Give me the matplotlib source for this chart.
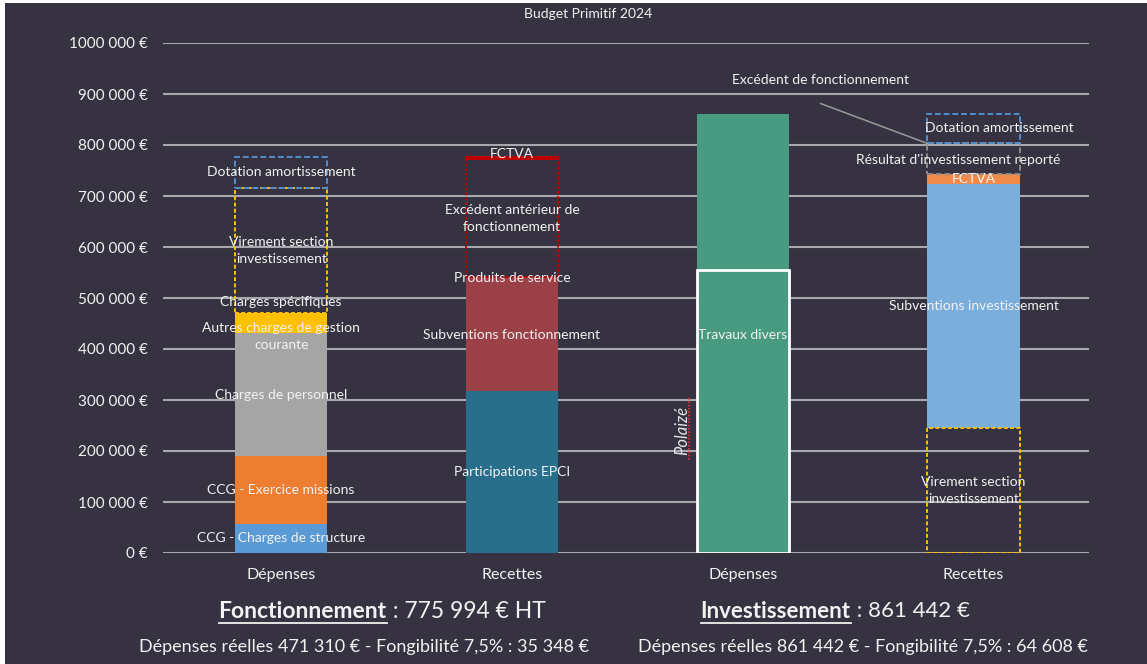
import matplotlib
matplotlib.use("Agg")
import matplotlib.pyplot as plt
import matplotlib.transforms as mtransforms
from matplotlib.patches import Rectangle
from matplotlib.lines import Line2D

# ---------------- data ----------------
title = "Budget Primitif 2024"
categories = ["Dépenses", "Recettes", "Dépenses", "Recettes"]
ytick_values = [0, 100000, 200000, 300000, 400000, 500000, 600000, 700000, 800000, 900000, 1000000]
ytick_labels = ["0 €", "100 000 €", "200 000 €", "300 000 €", "400 000 €", "500 000 €",
                "600 000 €", "700 000 €", "800 000 €", "900 000 €", "1000 000 €"]

fonct_dep_labels = ["CCG - Charges de structure", "CCG - Exercice missions", "Charges de personnel",
                    "Autres charges de gestion\ncourante", "Charges spécifiques",
                    "Virement section\ninvestissement", "Dotation amortissement"]
fonct_dep_values = [57000, 133000, 241000, 37000, 3310, 245000, 59684]

fonct_rec_labels = ["Participations EPCI", "Subventions fonctionnement", "Produits de service",
                    "Excédent antérieur de\nfonctionnement", "FCTVA"]
fonct_rec_values = [318000, 220000, 3000, 232000, 2994]

inv_dep_labels = ["Travaux divers", ""]
inv_dep_values = [555000, 306442]

inv_rec_labels = ["Virement section\ninvestissement", "Subventions investissement", "FCTVA",
                  "Résultat d'investissement reporté", "Excédent de fonctionnement",
                  "Dotation amortissement"]
inv_rec_values = [245000, 478000, 20000, 60000, 0, 58442]

fonct_title = "Fonctionnement"
fonct_total = " : 775 994 € HT"
inv_title = "Investissement"
inv_total = " : 861 442 €"
fonct_detail = "Dépenses réelles 471 310 € - Fongibilité 7,5% : 35 348 €"
inv_detail = "Dépenses réelles 861 442 € - Fongibilité 7,5% : 64 608 €"
stray_word = "Polaizé"

# ---------------- styles ----------------
BG = "#363241"
TXT = "#F2F2F2"
GRID = "#A8A8AE"
FONT = "Lato"

solid = lambda c, **k: dict(kind="fill", color=c, **k)
dash = lambda c, ls=(0, (3, 1.5)): dict(kind="outline", color=c, ls=ls)

styles = [
    [solid("#5B9BD5"), solid("#ED7D31"), solid("#A5A5A5"), solid("#FFC000"), solid("#FFC000"),
     dash("#FFC000", (0, (2, 1.2))), dash("#4F8FD0")],
    [solid("#276F8B"), solid("#9B4046"), solid("#9B4046"), dash("#C00000", (0, (1.5, 1))), dash("#C00000", "-")],
    [dict(kind="fill", color="#489A80", edge="white"), solid("#489A80")],
    [dash("#FFC000", (0, (2, 1.2))), solid("#7AAEDC"), solid("#F08A4B"), dash("#8C8C8C"), None, dash("#4F8FD0")],
]
# label pixel offsets (dx, dy) relative to the segment middle (dy positive = down)
offsets = [
    [(0, 0), (0, 0), (0, 0), (0, 13), (0, -11), (0, 0), (0, 0)],
    [(0, 0), (0, 0), (0, 0), (0, 1), (0, -4)],
    [(0, -76), (0, 0)],
    [(0, 0), (0, 0), (0, 0), (-15, 1), None, (26, -1)],
]

columns = [
    (fonct_dep_labels, fonct_dep_values),
    (fonct_rec_labels, fonct_rec_values),
    (inv_dep_labels, inv_dep_values),
    (inv_rec_labels, inv_rec_values),
]

W, H = 1147, 664
fig = plt.figure(figsize=(W / 100, H / 100), dpi=100, facecolor="white")
fig.patches.append(Rectangle((5 / W, 0), 1, (H - 3) / H, transform=fig.transFigure,
                             facecolor=BG, edgecolor="none", zorder=-10))

ax = fig.add_axes([163 / W, (H - 553) / H, 926 / W, 510 / H])
ax.set_facecolor("none")
ax.set_xlim(-0.512, 3.50)
ax.set_ylim(0, 1000000)
for s in ax.spines.values():
    s.set_visible(False)
ax.set_yticks(ytick_values)
ax.set_yticklabels(ytick_labels)
ax.set_xticks(range(len(categories)))
ax.set_xticklabels(categories)
ax.tick_params(axis="both", length=0, colors=TXT)
ax.tick_params(axis="y", pad=11, labelsize=11)
ax.tick_params(axis="x", pad=11, labelsize=11.5)
for t in ax.get_xticklabels() + ax.get_yticklabels():
    t.set_fontfamily(FONT)
ax.yaxis.grid(True, color=GRID, lw=1.5, zorder=0)
ax.set_axisbelow(True)

bw = 0.40
label_fs = 10
excedent_point = None
for ci, (labels, values) in enumerate(columns):
    bottom = 0
    for si, (lab, val) in enumerate(zip(labels, values)):
        st = styles[ci][si]
        if st is not None:
            if st["kind"] == "fill":
                edge = st.get("edge")
                ax.bar(ci, val, bottom=bottom, width=bw, color=st["color"],
                       edgecolor=edge if edge else st["color"], linewidth=2 if edge else 0,
                       zorder=3 if not edge else 4)
            else:
                ax.bar(ci, val, bottom=bottom, width=bw, facecolor="none",
                       edgecolor=st["color"], linewidth=1.4, linestyle=st["ls"], zorder=5)
        off = offsets[ci][si]
        if lab and off is not None:
            tr = mtransforms.offset_copy(ax.transData, fig=fig, x=off[0], y=-off[1], units="dots")
            ax.text(ci, bottom + val / 2, lab, transform=tr, ha="center", va="center",
                    color=TXT, fontsize=label_fs, fontfamily=FONT, zorder=6, linespacing=1.5)
        if val == 0 and lab:
            excedent_point = (ci - bw / 2, bottom, lab)
        bottom += val

# leader label for zero-height segment
if excedent_point is not None:
    ex, ey, lab = excedent_point
    ax.annotate("", xy=(ex, ey), xytext=(-107, 40), textcoords="offset pixels",
                arrowprops=dict(arrowstyle="-", color="#9A9A9A", lw=1.1, shrinkA=0, shrinkB=0), zorder=6)
    ax.annotate(lab, xy=(ex, ey), xytext=(-107, 63), textcoords="offset pixels",
                ha="center", va="center", color=TXT, fontsize=label_fs, fontfamily=FONT, zorder=6)

# stray rotated word with spell-check underline
fig.text(682 / W, 1 - 430 / H, stray_word, rotation=90, ha="center", va="center",
         color="#E6E6E6", fontsize=12, fontstyle="italic", fontfamily=FONT)
fig.lines.append(Line2D([689 / W, 689 / W], [1 - 398 / H, 1 - 460 / H], transform=fig.transFigure,
                        color="#E03030", lw=1.2, ls=(0, (1, 1))))

# title
fig.text(588 / W, 1 - 14 / H, title, ha="center", va="center", color=TXT, fontsize=10, fontfamily=FONT)

# bottom texts
renderer = fig.canvas.get_renderer()

def underlined_pair(cx, cy, bold, rest, fs):
    t1 = fig.text(0, 1 - cy / H, bold, ha="left", va="center", color=TXT, fontsize=fs,
                  fontweight="bold", fontfamily=FONT)
    t2 = fig.text(0, 1 - cy / H, rest, ha="left", va="center", color=TXT, fontsize=fs,
                  fontfamily=FONT)
    w1 = t1.get_window_extent(renderer).width
    w2 = t2.get_window_extent(renderer).width
    x0 = cx - (w1 + w2) / 2
    t1.set_x(x0 / W)
    t2.set_x((x0 + w1) / W)
    bb = t1.get_window_extent(renderer)
    yline = bb.y0 - 1
    fig.lines.append(Line2D([x0 / W, (x0 + w1) / W], [yline / H, yline / H],
                            transform=fig.transFigure, color=TXT, lw=1.3))

underlined_pair(382, 611, fonct_title, fonct_total, 16.5)
underlined_pair(835, 611, inv_title, inv_total, 16)
fig.text(364 / W, 1 - 647 / H, fonct_detail, ha="center", va="center", color=TXT,
         fontsize=13, fontfamily=FONT)
fig.text(863 / W, 1 - 647 / H, inv_detail, ha="center", va="center", color=TXT,
         fontsize=13, fontfamily=FONT)

fig.savefig("out.png", dpi=100, facecolor=fig.get_facecolor())
